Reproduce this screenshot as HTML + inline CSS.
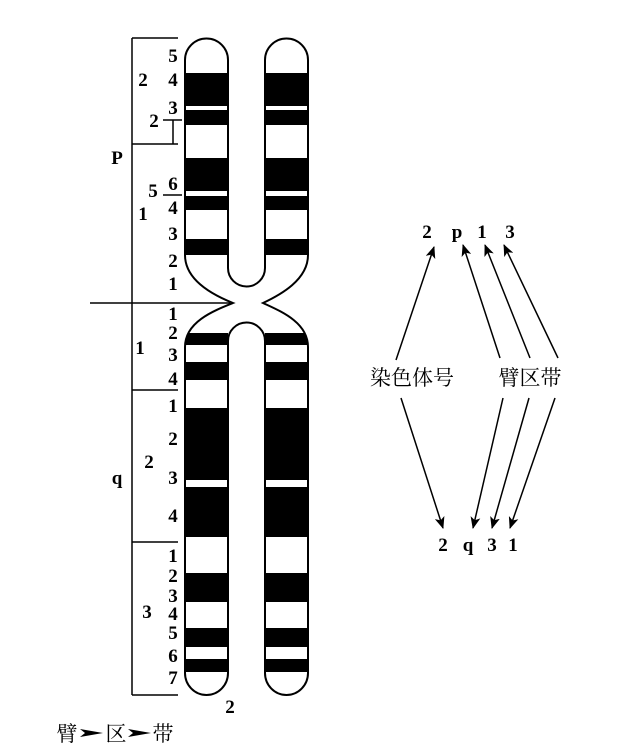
<!DOCTYPE html>
<html><head><meta charset="utf-8"><style>
html,body{margin:0;padding:0;background:#fff;}
svg{display:block;}
text{font-family:"Liberation Serif","Noto Serif CJK SC",serif;fill:#000;}
.n{font-size:19px;text-anchor:middle;font-weight:bold;}
.c{font-size:21px;text-anchor:middle;font-family:"Liberation Serif","Noto Serif CJK SC","Noto Sans CJK SC",serif;}
</style></head><body>
<svg width="622" height="752" viewBox="0 0 622 752" xmlns="http://www.w3.org/2000/svg">
<defs>
<marker id="ah" markerWidth="12" markerHeight="10" refX="11" refY="5" orient="auto" markerUnits="userSpaceOnUse">
<path d="M0,0 L12,5 L0,10 L3,5 Z" fill="#000"/>
</marker>
<clipPath id="cl"><path d="M185,60 A21.5,21.5 0 0 1 228,60 L228,268 A18.5,18.5 0 0 0 265,268 L265,60 A21.5,21.5 0 0 1 308,60 L308,255 C308,280 280,295 263,303 C280,311 308,322 308,347 L308,673 A21.5,22 0 0 1 265,673 L265,341 A18.5,18.5 0 0 0 228,341 L228,673 A21.5,22 0 0 1 185,673 L185,347 C185,322 213,311 233,303 C213,295 185,280 185,255 Z"/></clipPath>
</defs>
<g clip-path="url(#cl)" fill="#000">
<rect x="185" y="73" width="123" height="33"/>
<rect x="185" y="110" width="123" height="15"/>
<rect x="185" y="158" width="123" height="33"/>
<rect x="185" y="196" width="123" height="14"/>
<rect x="185" y="239" width="123" height="16"/>
<rect x="185" y="333" width="43" height="12"/><rect x="265" y="333" width="43" height="12"/>
<rect x="185" y="362" width="123" height="18"/>
<rect x="185" y="408" width="123" height="72"/>
<rect x="185" y="487" width="123" height="50"/>
<rect x="185" y="573" width="123" height="29"/>
<rect x="185" y="628" width="123" height="19"/>
<rect x="185" y="659" width="123" height="13"/>
</g>
<path d="M185,60 A21.5,21.5 0 0 1 228,60 L228,268 A18.5,18.5 0 0 0 265,268 L265,60 A21.5,21.5 0 0 1 308,60 L308,255 C308,280 280,295 263,303 C280,311 308,322 308,347 L308,673 A21.5,22 0 0 1 265,673 L265,341 A18.5,18.5 0 0 0 228,341 L228,673 A21.5,22 0 0 1 185,673 L185,347 C185,322 213,311 233,303 C213,295 185,280 185,255 Z" fill="none" stroke="#000" stroke-width="2"/>
<g stroke="#000" stroke-width="1.5" fill="none">
<line x1="132" y1="38" x2="132" y2="695"/>
<line x1="132" y1="38" x2="178" y2="38"/>
<line x1="132" y1="144" x2="178" y2="144"/>
<line x1="90" y1="303" x2="230" y2="303"/>
<line x1="132" y1="390" x2="178" y2="390"/>
<line x1="132" y1="542" x2="178" y2="542"/>
<line x1="132" y1="695" x2="178" y2="695"/>
<line x1="163" y1="120" x2="182" y2="120"/>
<line x1="173" y1="120" x2="173" y2="144"/>
<line x1="163" y1="195" x2="182" y2="195"/>
</g>
<g class="n">
<text x="173" y="62">5</text><text x="173" y="86">4</text><text x="143" y="86">2</text>
<text x="173" y="114">3</text><text x="154" y="127">2</text>
<text x="117" y="164">P</text>
<text x="173" y="190">6</text><text x="153" y="197">5</text><text x="173" y="214">4</text>
<text x="143" y="220">1</text><text x="173" y="240">3</text><text x="173" y="267">2</text><text x="173" y="290">1</text>
<text x="173" y="320">1</text><text x="173" y="339">2</text><text x="140" y="354">1</text>
<text x="173" y="361">3</text><text x="173" y="385">4</text>
<text x="173" y="412">1</text><text x="173" y="445">2</text><text x="149" y="468">2</text>
<text x="117" y="484">q</text><text x="173" y="484">3</text><text x="173" y="522">4</text>
<text x="173" y="562">1</text><text x="173" y="582">2</text><text x="173" y="602">3</text>
<text x="147" y="618">3</text><text x="173" y="620">4</text><text x="173" y="639">5</text>
<text x="173" y="662">6</text><text x="173" y="684">7</text>
<text x="230" y="713">2</text>
</g>
<text class="c" x="67" y="741">臂</text>
<polygon points="80,729 103,733 80,737 85,733" fill="#000"/>
<text class="c" x="116" y="741">区</text>
<polygon points="128,729 151,733 128,737 133,733" fill="#000"/>
<text class="c" x="163" y="741">带</text>
<g class="n">
<text x="427" y="238">2</text><text x="457" y="238">p</text><text x="482" y="238">1</text><text x="510" y="238">3</text>
<text x="443" y="551">2</text><text x="468" y="551">q</text><text x="492" y="551">3</text><text x="513" y="551">1</text>
</g>
<text class="c" x="412" y="385">染色体号</text>
<text class="c" x="530" y="385">臂区带</text>
<g stroke="#000" stroke-width="1.5" marker-end="url(#ah)">
<line x1="396" y1="360" x2="434" y2="247"/>
<line x1="500" y1="358" x2="463" y2="245"/>
<line x1="530" y1="358" x2="485" y2="245"/>
<line x1="558" y1="358" x2="504" y2="245"/>
<line x1="401" y1="398" x2="443" y2="528"/>
<line x1="503" y1="398" x2="473" y2="528"/>
<line x1="529" y1="398" x2="492" y2="528"/>
<line x1="555" y1="398" x2="510" y2="528"/>
</g>
</svg>
</body></html>
